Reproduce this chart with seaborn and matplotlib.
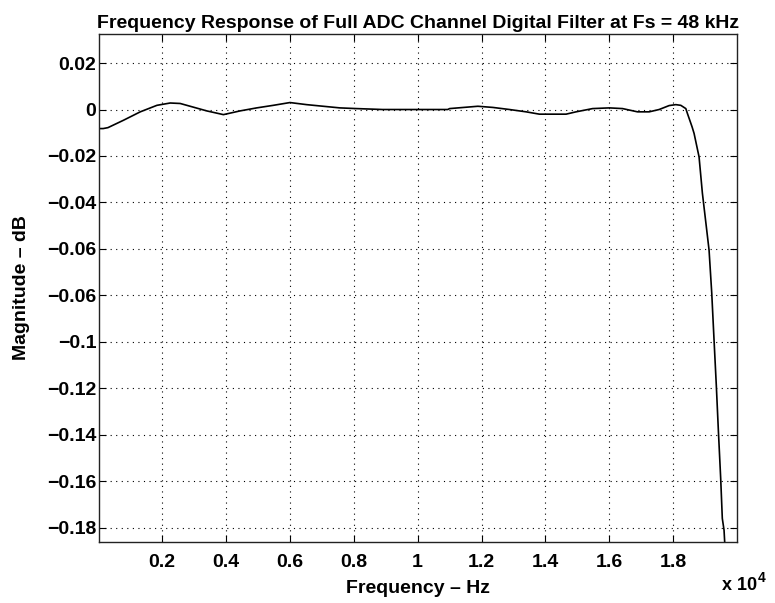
import matplotlib
matplotlib.use("Agg")
import matplotlib.pyplot as plt
import seaborn as sns
import numpy as np

# ---- data ----
freq_hz = [20, 150, 300, 790, 1312, 1834, 2250, 2562, 2875, 3396, 3916, 4437, 4959,
           5478, 6000, 6522, 7040, 7562, 8084, 8709, 8900, 10940, 11000, 11884, 12353,
           12875, 13397, 13812, 14647, 14959, 15478, 16000, 16416, 16884, 17250, 17562,
           17875, 18084, 18240, 18397, 18447, 18594, 18656, 18812, 18916, 19040, 19125,
           19209, 19281, 19353, 19416, 19490, 19540, 19594, 19650]
mag_db = [-0.0082, -0.0082, -0.0078, -0.0046, -0.0010, 0.0018, 0.0028, 0.0026, 0.0014,
          -0.0006, -0.0022, -0.0006, 0.0007, 0.0018, 0.0030, 0.0021, 0.0014, 0.0007,
          0.0004, 0.0001, 0.0, 0.0, 0.0004, 0.0014, 0.0009, 0.0, -0.0010, -0.0020,
          -0.0020, -0.0010, 0.0004, 0.0007, 0.0004, -0.0010, -0.0010, 0.0, 0.0017,
          0.0021, 0.0018, 0.0004, -0.0017, -0.0075, -0.0103, -0.0204, -0.0360, -0.0505,
          -0.0605, -0.0790, -0.0992, -0.1190, -0.1380, -0.1590, -0.1760, -0.1810, -0.1950]

xtick_vals = [2000, 4000, 6000, 8000, 10000, 12000, 14000, 16000, 18000]
xtick_labels = ["0.2", "0.4", "0.6", "0.8", "1", "1.2", "1.4", "1.6", "1.8"]
ytick_vals = [0.02, 0.0, -0.02, -0.04, -0.06, -0.08, -0.10, -0.12, -0.14, -0.16, -0.18]
ytick_labels = ["0.02", "0", "\u22120.02", "\u22120.04", "\u22120.06", "\u22120.06",
                "\u22120.1", "\u22120.12", "\u22120.14", "\u22120.16", "\u22120.18"]

title = "Frequency Response of Full ADC Channel Digital Filter at Fs = 48 kHz"
xlabel = "Frequency \u2013 Hz"
ylabel = "Magnitude \u2013 dB"

# ---- style ----
sns.set_style("ticks")
plt.rcParams["font.family"] = ["Liberation Sans", "DejaVu Sans"]
plt.rcParams["font.weight"] = "bold"
plt.rcParams["text.color"] = "black"
plt.rcParams["axes.labelcolor"] = "black"
plt.rcParams["xtick.color"] = "black"
plt.rcParams["ytick.color"] = "black"

fig = plt.figure(figsize=(7.75, 6.03), dpi=100)
ax = fig.add_axes([99 / 775, 1 - 541.7 / 603, 638 / 775, (541.7 - 34) / 603])

sns.lineplot(x=freq_hz, y=mag_db, color="black", linewidth=1.2, ax=ax, sort=True)

ax.set_xlim(20, 20000)
ax.set_ylim(-0.186, 0.0325)

ax.set_xticks(xtick_vals)
ax.set_xticklabels(xtick_labels, fontsize=14, fontweight="bold")
ax.set_yticks(ytick_vals)
ax.set_yticklabels(ytick_labels, fontsize=14, fontweight="bold")

ax.tick_params(direction="in", length=5, width=0.8, top=True, right=True,
               colors="black")
ax.tick_params(axis="y", pad=2)
ax.tick_params(axis="x", pad=9)
ax.grid(True, linestyle=(0, (1, 4)), color="black", linewidth=0.8)
for s in ax.spines.values():
    s.set_linewidth(1.0)
    s.set_color("#222222")

ax.set_title(title, fontsize=14, fontweight="bold", pad=4, color="black")
ax.set_xlabel(xlabel, fontsize=14, fontweight="bold", labelpad=6)
ax.set_ylabel(ylabel, fontsize=14, fontweight="bold", labelpad=12)

fig.text(722 / 775, 1 - 590 / 603, "x 10", fontsize=13, fontweight="bold",
         ha="left", va="baseline")
fig.text(758 / 775, 1 - 582 / 603, "4", fontsize=10, fontweight="bold",
         ha="left", va="baseline")

fig.savefig("out.png", dpi=100)
